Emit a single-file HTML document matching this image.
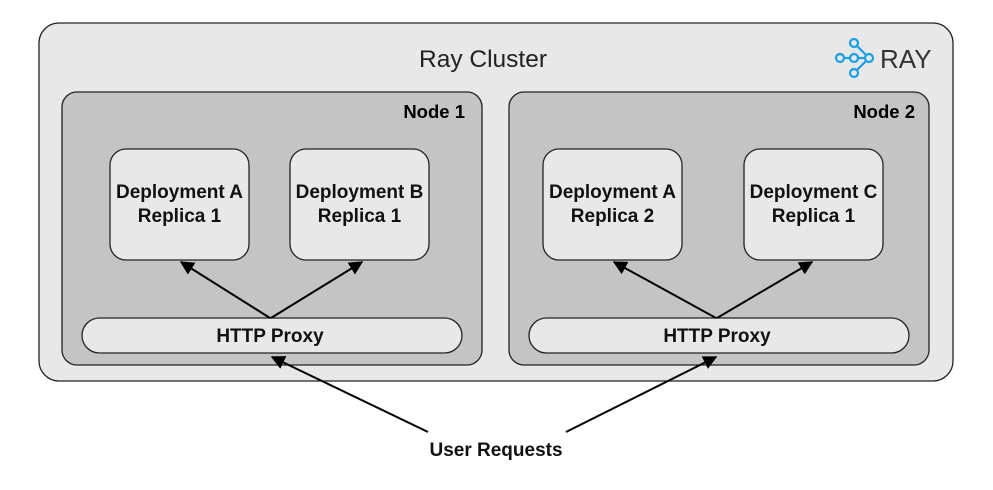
<!DOCTYPE html>
<html><head><meta charset="utf-8"><style>
html,body{margin:0;padding:0;background:#fff;}
svg{display:block;font-family:"Liberation Sans",sans-serif;}
</style></head><body>
<svg width="993" height="490" viewBox="0 0 993 490" xmlns="http://www.w3.org/2000/svg">
<defs>
<marker id="ah" viewBox="0 0 10 10" refX="9" refY="5" markerWidth="7" markerHeight="7" orient="auto-start-reverse">
<path d="M0,0 L10,5 L0,10 z" fill="#000"/></marker>
</defs>
<rect x="39" y="23" width="914" height="358" rx="20" fill="#e8e8e8" stroke="#222" stroke-width="1.3"/>
<text x="483" y="67" font-size="24.5" text-anchor="middle" fill="#222">Ray Cluster</text>
<g stroke="#1a9ee6" stroke-width="2.2" fill="none">
<circle cx="840" cy="58" r="4"/><circle cx="854" cy="58" r="4"/><circle cx="869" cy="58" r="4"/>
<circle cx="854" cy="43" r="4"/><circle cx="854" cy="73" r="4"/>
<line x1="844" y1="58" x2="850" y2="58"/><line x1="858" y1="58" x2="865" y2="58"/>
<line x1="857" y1="46" x2="866" y2="55"/><line x1="857" y1="70" x2="866" y2="61"/>
</g>
<text x="880" y="68" font-size="26" fill="#333">RAY</text>

<rect x="62" y="92" width="420" height="273" rx="15" fill="#c4c4c4" stroke="#222" stroke-width="1.3"/>
<rect x="509" y="92" width="420" height="273" rx="15" fill="#c4c4c4" stroke="#222" stroke-width="1.3"/>
<text x="465" y="118" font-size="18.5" font-weight="bold" text-anchor="end">Node 1</text>
<text x="915" y="118" font-size="18.5" font-weight="bold" text-anchor="end">Node 2</text>

<g fill="#e8e8e8" stroke="#222" stroke-width="1.3">
<rect x="110" y="149" width="139" height="111" rx="16"/>
<rect x="290" y="149" width="139" height="111" rx="16"/>
<rect x="543" y="149" width="139" height="111" rx="16"/>
<rect x="744" y="149" width="139" height="111" rx="16"/>
<rect x="82" y="318" width="380" height="35" rx="17.5"/>
<rect x="529" y="318" width="380" height="35" rx="17.5"/>
</g>
<g font-size="19" font-weight="bold" text-anchor="middle" fill="#111">
<text x="179.5" y="198">Deployment A</text><text x="179.5" y="222">Replica 1</text>
<text x="359.5" y="198">Deployment B</text><text x="359.5" y="222">Replica 1</text>
<text x="612.5" y="198">Deployment A</text><text x="612.5" y="222">Replica 2</text>
<text x="813.5" y="198">Deployment C</text><text x="813.5" y="222">Replica 1</text>
<text x="270" y="342">HTTP Proxy</text>
<text x="717" y="342">HTTP Proxy</text>
<text x="496" y="456">User Requests</text>
</g>
<g stroke="#000" stroke-width="2" marker-end="url(#ah)">
<line x1="270" y1="318" x2="181" y2="262"/>
<line x1="271" y1="318" x2="362" y2="262"/>
<line x1="716" y1="318" x2="614" y2="262"/>
<line x1="717" y1="318" x2="812" y2="262"/>
<line x1="428" y1="432" x2="272" y2="357"/>
<line x1="566" y1="432" x2="716" y2="357"/>
</g>
</svg>
</body></html>
